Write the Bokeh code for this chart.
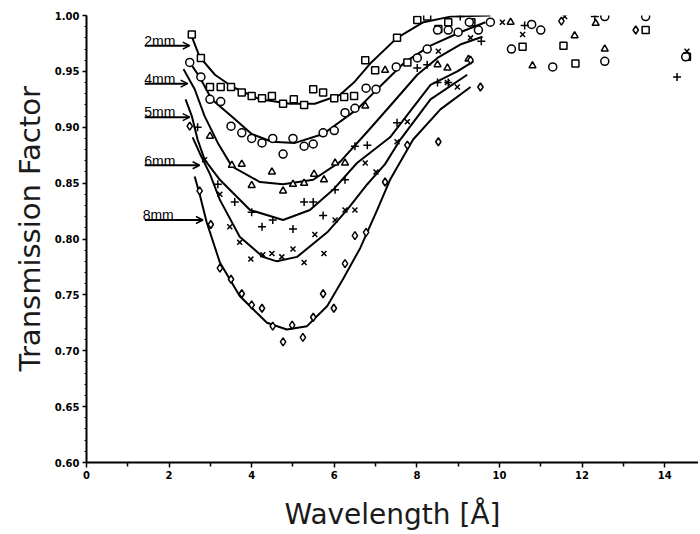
from bokeh.plotting import figure
from bokeh.models import FixedTicker, NumeralTickFormatter, Arrow, OpenHead, Range1d, Title
from bokeh.core.properties import value
from bokeh.embed import file_html
from bokeh.resources import INLINE

# ---------------- data ----------------
# fitted curves
c2_x = [2.55, 2.74, 3.11, 3.54, 4.20, 4.93, 5.53, 6.14, 6.50, 6.87, 7.52, 8.16, 8.81, 9.78]
c2_y = [0.981, 0.963, 0.947, 0.936, 0.925, 0.921, 0.921, 0.929, 0.941, 0.957, 0.980, 0.994, 0.999, 1.000]

c4_x = [2.50, 2.74, 3.03, 3.54, 4.00, 4.49, 5.05, 5.73, 6.55, 7.04, 7.70, 8.33, 9.05, 9.66]
c4_y = [0.958, 0.945, 0.925, 0.909, 0.894, 0.887, 0.886, 0.894, 0.916, 0.934, 0.958, 0.973, 0.985, 0.994]

c5_x = [2.35, 2.62, 2.86, 3.18, 3.52, 4.20, 4.76, 5.49, 6.14, 6.80, 7.35, 8.01, 8.50, 9.05, 9.59]
c5_y = [0.952, 0.934, 0.910, 0.886, 0.865, 0.851, 0.849, 0.853, 0.869, 0.896, 0.919, 0.947, 0.962, 0.974, 0.981]

c6_x = [2.40, 2.55, 2.69, 2.86, 3.23, 3.96, 4.76, 5.41, 5.97, 6.55, 7.35, 8.33, 8.98, 9.37]
c6_y = [0.925, 0.910, 0.889, 0.871, 0.853, 0.826, 0.817, 0.826, 0.844, 0.868, 0.891, 0.938, 0.950, 0.959]

c7_x = [2.57, 2.74, 2.99, 3.23, 3.71, 4.27, 4.61, 5.10, 5.83, 6.31, 6.80, 7.23, 7.60, 8.33, 9.22]
c7_y = [0.891, 0.877, 0.858, 0.835, 0.802, 0.784, 0.780, 0.784, 0.806, 0.826, 0.849, 0.867, 0.889, 0.925, 0.947]

c8_x = [2.62, 2.74, 2.91, 3.23, 3.71, 4.37, 4.85, 5.34, 5.83, 6.21, 6.63, 7.04, 7.35, 7.91, 8.57, 9.30]
c8_y = [0.856, 0.840, 0.815, 0.779, 0.749, 0.725, 0.719, 0.722, 0.740, 0.764, 0.792, 0.826, 0.853, 0.889, 0.916, 0.936]

# measured points
sq_x = [2.55, 2.77, 2.99, 3.25, 3.50, 3.76, 4.00, 4.25, 4.49, 4.76, 5.02, 5.27, 5.49, 5.73, 6.00, 6.24,
        6.48, 6.75, 6.99, 7.52, 7.77, 8.01, 8.25, 8.52, 8.76, 9.32, 10.56, 11.55, 11.84, 13.54, 14.54]
sq_y = [0.983, 0.962, 0.936, 0.936, 0.936, 0.931, 0.928, 0.926, 0.928, 0.921, 0.925, 0.920, 0.934, 0.931,
        0.926, 0.927, 0.928, 0.960, 0.951, 0.980, 0.958, 0.996, 0.999, 0.988, 0.994, 0.994, 0.972, 0.973,
        0.957, 0.987, 0.963]

ci_x = [2.50, 2.77, 2.99, 3.25, 3.50, 3.76, 4.00, 4.25, 4.51, 4.76, 5.00, 5.27, 5.49, 5.73, 6.00, 6.26,
        6.50, 6.77, 7.01, 7.50, 8.01, 8.25, 8.50, 8.76, 9.00, 9.27, 9.49, 9.78, 10.29, 10.78, 11.00,
        11.29, 12.55, 12.55, 13.54, 14.51]
ci_y = [0.958, 0.945, 0.925, 0.923, 0.901, 0.895, 0.890, 0.886, 0.890, 0.876, 0.890, 0.883, 0.885, 0.895,
        0.897, 0.913, 0.917, 0.935, 0.934, 0.954, 0.962, 0.970, 0.987, 0.987, 0.985, 0.994, 0.987, 0.994,
        0.970, 0.992, 0.987, 0.954, 0.999, 0.959, 0.999, 0.963]

tr_x = [2.99, 3.52, 3.76, 4.00, 4.49, 4.76, 5.00, 5.27, 5.51, 5.75, 6.02, 6.26, 6.75, 7.23, 8.50, 8.74,
        9.25, 10.27, 10.80, 11.82, 12.33, 12.55]
tr_y = [0.892, 0.866, 0.867, 0.848, 0.860, 0.843, 0.849, 0.850, 0.858, 0.853, 0.868, 0.868, 0.919, 0.951,
        0.956, 0.953, 0.961, 0.994, 0.955, 0.982, 0.993, 0.970]

pl_x = [2.69, 3.18, 3.59, 4.00, 4.25, 4.51, 5.00, 5.27, 5.49, 5.73, 6.02, 6.26, 6.50, 6.80, 7.52, 8.01,
        8.25, 8.50, 8.76, 9.05, 9.56, 10.61, 12.31, 14.30]
pl_y = [0.900, 0.849, 0.833, 0.824, 0.811, 0.817, 0.809, 0.833, 0.833, 0.821, 0.844, 0.853, 0.883, 0.884,
        0.904, 0.953, 0.956, 0.940, 0.940, 0.999, 0.977, 0.991, 0.999, 0.945]

xx_x = [2.86, 3.23, 3.47, 3.71, 3.98, 4.27, 4.49, 4.73, 5.00, 5.27, 5.53, 5.75, 6.02, 6.26, 6.50, 6.75,
        7.01, 7.52, 7.77, 8.52, 8.74, 8.98, 9.30, 10.07, 10.56, 11.58, 14.54]
xx_y = [0.871, 0.840, 0.811, 0.797, 0.782, 0.786, 0.787, 0.784, 0.791, 0.779, 0.804, 0.787, 0.817, 0.826,
        0.826, 0.868, 0.860, 0.887, 0.905, 0.968, 0.940, 0.936, 0.980, 0.994, 0.983, 0.999, 0.968]

di_x = [2.50, 2.74, 3.01, 3.23, 3.50, 3.76, 4.00, 4.25, 4.51, 4.76, 4.98, 5.24, 5.49, 5.73, 5.99, 6.26,
        6.50, 6.77, 7.23, 7.77, 8.52, 9.30, 9.54, 11.50, 13.30]
di_y = [0.901, 0.843, 0.813, 0.774, 0.764, 0.751, 0.741, 0.738, 0.722, 0.708, 0.723, 0.712, 0.730, 0.751,
        0.738, 0.778, 0.803, 0.806, 0.851, 0.884, 0.887, 0.960, 0.936, 0.995, 0.987]

# texts and ticks
thick_labels = ["2mm", "4mm", "5mm", "6mm", "8mm"]
x_title = "Wavelength [Å]"
y_title = "Transmission Factor"
y_ticks = [0.60, 0.65, 0.70, 0.75, 0.80, 0.85, 0.90, 0.95, 1.00]
x_ticks = [0, 2, 4, 6, 8, 10, 12, 14]
x_minor = [1, 3, 5, 7, 9, 11, 13]

# label / arrow placement (layout, data units)
arr_x0 = [1.41, 1.41, 1.41, 1.41, 1.41]
arr_x1 = [2.50, 2.45, 2.50, 2.74, 2.82]
arr_y = [0.973, 0.939, 0.909, 0.866, 0.817]
lab_x = [1.40, 1.40, 1.40, 1.40, 1.36]
lab_y = [a + 0.0042 for a in arr_y]

# ---------------- figure ----------------
p = figure(width=698, height=533, x_range=Range1d(0, 14.82), y_range=Range1d(0.6, 1.0),
           output_backend="svg", toolbar_location=None,
           min_border_left=86, min_border_right=0, min_border_top=15, min_border_bottom=71)
p.xgrid.visible = False
p.ygrid.visible = False
p.outline_line_color = None
p.background_fill_color = "white"

for ax in (p.xaxis[0], p.yaxis[0]):
    ax.axis_line_width = 2
    ax.axis_line_color = "black"
    ax.major_tick_line_width = 1.5
    ax.major_tick_line_color = "black"
    ax.minor_tick_line_color = "black"
    ax.major_tick_in = 0
    ax.minor_tick_in = 0
    ax.major_label_text_font = "DejaVu Sans"
    ax.major_label_text_font_style = "bold"
    ax.major_label_text_font_size = "10px"
    ax.major_label_text_color = "black"

p.xaxis.ticker = FixedTicker(ticks=x_ticks, minor_ticks=x_minor)
p.xaxis.formatter = NumeralTickFormatter(format="0")
p.xaxis.major_tick_out = 5
p.xaxis.minor_tick_out = 4
p.xaxis.minor_tick_line_width = 1.5
p.xaxis.major_label_standoff = 3
p.xaxis.axis_label = x_title
p.xaxis.axis_label_text_font = "DejaVu Sans"
p.xaxis.axis_label_text_font_style = "normal"
p.xaxis.axis_label_text_font_size = "28px"
p.xaxis.axis_label_text_color = "#1a1a1a"
p.xaxis.axis_label_standoff = 16

p.yaxis.ticker = FixedTicker(ticks=y_ticks,
                             minor_ticks=[round(0.60 + 0.01 * i, 2) for i in range(41)])
p.yaxis.formatter = NumeralTickFormatter(format="0.00")
p.yaxis.major_tick_out = 4
p.yaxis.minor_tick_out = 2
p.yaxis.minor_tick_line_width = 1
p.yaxis.major_label_standoff = 3

# vertical axis title as a side title, positioned like the original
p.add_layout(Title(text=y_title, align="left", offset=91, standoff=8, vertical_align="middle",
                   text_font="DejaVu Sans", text_font_style="normal",
                   text_font_size="29px", text_color="#1a1a1a"), "left")

# curves
for cx, cy in [(c2_x, c2_y), (c4_x, c4_y), (c5_x, c5_y), (c6_x, c6_y), (c7_x, c7_y), (c8_x, c8_y)]:
    p.line(cx, cy, line_color="black", line_width=2)

# markers
mk = dict(fill_color="white", line_color="black", line_width=1.5)
p.scatter(sq_x, sq_y, marker="square", size=7, **mk)
p.scatter(ci_x, ci_y, marker="circle", size=8, **mk)
p.scatter(tr_x, tr_y, marker="triangle", size=7, **mk)
p.scatter(pl_x, pl_y, marker="cross", size=8, **mk)
p.scatter(xx_x, xx_y, marker="x", size=7, **mk)
p.scatter(di_x, di_y, marker="diamond", size=8, **mk)

# thickness labels with arrows
p.text(x=lab_x, y=lab_y, text=thick_labels, text_font=value("Liberation Sans"),
       text_font_size="14px", text_baseline="alphabetic", text_align="left", text_color="black")
for x0, x1, yy in zip(arr_x0, arr_x1, arr_y):
    p.add_layout(Arrow(end=OpenHead(size=7, line_width=1.5, line_color="black"),
                       x_start=x0, y_start=yy, x_end=x1, y_end=yy,
                       line_width=2, line_color="black"))

open("out.html", "w").write(file_html(p, INLINE))
